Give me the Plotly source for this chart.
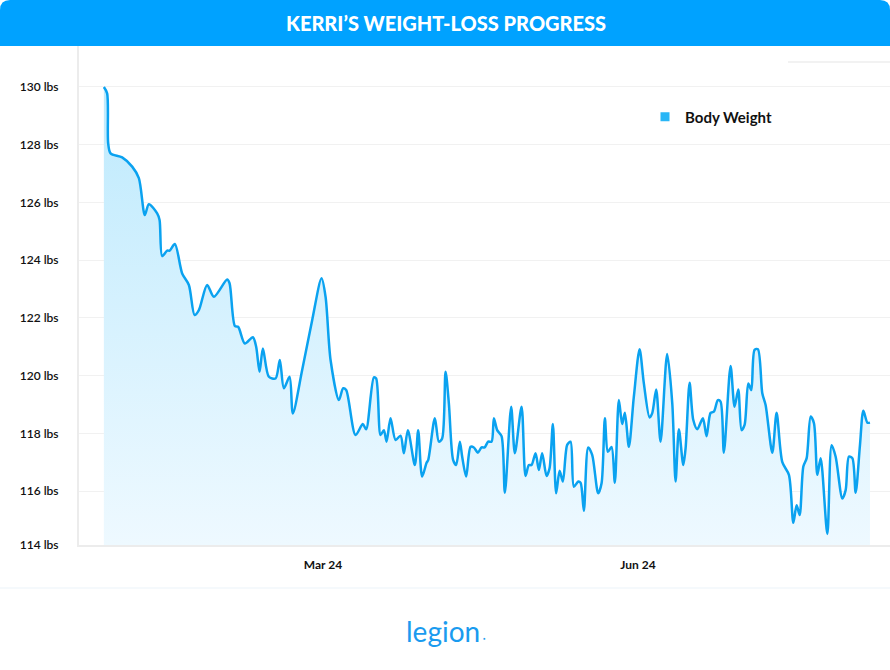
import pandas as pd
import plotly.graph_objects as go

# ---- data ----
start_date = "2023-12-28"
days_since_start = [
    0, 0.96, 1.26, 1.96, 5.34, 8.27, 10.22, 11.97, 13.14, 15.57, 16.27, 17.03, 18.49, 19.19,
    20.74, 22.87, 24.83, 26.49, 27.75, 30.17, 32.13, 36.01, 36.71, 38.26, 39.22, 41.18, 43.52,
    44.48, 45.47, 46.44, 48.19, 50.15, 51.40, 52.57, 54.24, 55.20, 57.92, 60.84, 63.58, 64.75,
    66.21, 68.64, 69.89, 70.77, 73.51, 75.64, 76.61, 78.86, 79.53, 80.81, 81.78, 82.57, 83.73,
    85.19, 86.65, 87.62, 88.79, 90.83, 91.80, 92.96, 94.25, 94.72, 96.67, 97.84, 98.80, 99.80,
    100.76, 102.02, 102.89, 103.97, 104.65, 105.82, 107.10, 108.06, 109.23, 110.31, 111.19,
    112.24, 113.24, 113.91, 114.87, 116.15, 117.12, 118.96, 120.04, 122.0, 123.16, 124.13,
    124.91, 126.08, 127.05, 128.01, 129.30, 130.17, 131.14, 132.10, 133.10, 134.06, 135.32,
    136.31, 137.27, 138.53, 139.23, 140.19, 141.45, 142.62, 144.37, 145.36, 146.33, 147.2,
    148.28, 149.24, 150.41, 151.38, 152.17, 153.34, 154.79, 156.46, 157.71, 159.38, 160.14,
    161.31, 162.59, 164.52, 166.01, 166.98, 167.94, 169.23, 169.9, 171.07, 172.15, 173.32,
    174.95, 176.03, 177.2, 178.16, 179.33, 180.12, 181.08, 183.04, 184.21, 185.29, 186.25,
    187.13, 188.21, 189.09, 190.05, 191.02, 192.3, 193.27, 195.23, 196.48, 198.15, 200.08,
    201.37, 202.33, 203.21, 204.29, 205.26, 206.43, 207.39, 208.38, 209.35, 211.3, 212.56,
    213.73, 215.68, 216.65, 217.61, 218.6, 219.57, 220.83, 221.82, 222.99, 223.75,
]
weights_lbs = [
    130.0, 129.78, 128.05, 127.7, 127.56, 127.24, 126.84, 125.56, 125.94, 125.62, 125.39, 124.14,
    124.33, 124.33, 124.56, 123.54, 123.14, 122.10, 122.27, 123.14, 122.73, 123.33, 123.20,
    121.72, 121.69, 121.11, 121.33, 121.00, 120.13, 120.94, 119.96, 119.90, 120.54, 119.56,
    119.96, 118.69, 120.19, 121.92, 123.37, 122.73, 120.54, 119.15, 119.56, 119.50, 117.94,
    118.32, 118.14, 119.94, 119.90, 117.94, 118.11, 117.71, 118.52, 117.77, 117.92, 117.31,
    118.11, 116.90, 118.11, 116.50, 116.98, 117.07, 118.52, 117.71, 117.82, 120.13, 119.04,
    117.07, 116.90, 117.71, 117.19, 116.50, 117.53, 117.51, 117.33, 117.51, 117.51, 117.71,
    117.71, 118.52, 118.11, 117.90, 115.94, 118.92, 117.31, 118.92, 116.52, 116.90, 116.90,
    117.31, 116.73, 117.31, 116.52, 116.79, 118.32, 115.92, 116.70, 116.33, 117.60, 117.71,
    116.15, 116.33, 116.29, 115.32, 117.51, 117.25, 115.92, 116.27, 118.52, 117.36, 117.53,
    116.29, 119.15, 118.32, 118.71, 117.53, 119.27, 120.91, 119.73, 118.55, 118.69, 119.52,
    117.71, 120.75, 119.04, 116.33, 118.14, 116.90, 117.48, 119.75, 118.46, 118.14, 118.52,
    117.90, 118.71, 118.75, 119.15, 119.10, 117.33, 120.33, 118.92, 119.52, 118.11, 118.29,
    119.73, 119.50, 120.89, 120.91, 119.39, 118.98, 117.33, 118.71, 117.0, 116.56, 114.90,
    115.51, 115.17, 116.85, 117.14, 118.58, 118.35, 116.56, 117.14, 114.51, 117.59, 117.19,
    115.74, 116.03, 117.19, 117.14, 115.94, 117.59, 118.78, 118.37, 118.37,
]
series_name = "Body Weight"
title_text = "KERRI’S WEIGHT-LOSS PROGRESS"
y_tick_values = [114.13, 116, 118, 120, 122, 124, 126, 128, 130]
y_tick_labels = ["114 lbs", "116 lbs", "118 lbs", "120 lbs", "122 lbs", "124 lbs",
                 "126 lbs", "128 lbs", "130 lbs"]
x_tick_values = ["2024-03-01", "2024-06-01"]
x_tick_labels = ["Mar 24", "Jun 24"]

dates = pd.Timestamp(start_date) + pd.to_timedelta(days_since_start, unit="D")

# ---- layout geometry helpers ----
W, H = 890, 670
L, R, T, B = 79, 0, 46, 125
PW, PH = W - L - R, H - T - B


def px(x):
    return (x - L) / PW


def py(y):
    return (H - B - y) / PH


BLUE = "#00a2ff"
LINE = "#0aa2f0"

fig = go.Figure()
fig.add_trace(go.Scatter(
    x=dates, y=weights_lbs, mode="lines", name=series_name, showlegend=False,
    line=dict(color=LINE, width=2.5, shape="spline", smoothing=0.8),
    fill="tozeroy",
    fillgradient=dict(type="vertical", start=114.13, stop=130,
                      colorscale=[[0, "rgb(238,249,255)"], [1, "rgb(190,234,253)"]]),
    hoverinfo="skip",
))
fig.add_trace(go.Scatter(
    x=[None], y=[None], mode="markers", name=series_name,
    marker=dict(symbol="square", size=9, color="#29b6f6"),
))

x0 = pd.Timestamp("2024-03-01") - pd.Timedelta(days=71.26)
x1 = pd.Timestamp("2024-03-01") + pd.Timedelta(days=165.6)

title_bar = (f"M {px(0)},{py(46)} L {px(0)},{py(10)} Q {px(0)},{py(0)} {px(10)},{py(0)} "
             f"L {px(880)},{py(0)} Q {px(890)},{py(0)} {px(890)},{py(10)} L {px(890)},{py(46)} Z")

fig.update_layout(
    width=W, height=H,
    margin=dict(l=L, r=R, t=T, b=B),
    paper_bgcolor="white", plot_bgcolor="white",
    font=dict(family="Lato, 'Open Sans', sans-serif", color="#1c1c1c"),
    showlegend=True,
    legend=dict(x=px(645), y=py(117), xanchor="left", yanchor="middle",
                bgcolor="rgba(0,0,0,0)",
                font=dict(family="Lato", size=15, color="#111111", weight="bold")),
    xaxis=dict(range=[x0, x1], showgrid=False, zeroline=False,
               showline=True, linecolor="#ececec", linewidth=2,
               tickvals=x_tick_values, ticktext=x_tick_labels, ticks="",
               ticklabelstandoff=8,
               tickfont=dict(family="Lato", size=12, color="#111111", weight="bold")),
    yaxis=dict(range=[114.13, 131.42], showgrid=True, gridcolor="#f1f1f1", gridwidth=1,
               zeroline=False, showline=True, linecolor="#ececec", linewidth=2,
               tickvals=y_tick_values, ticktext=y_tick_labels, ticks="",
               ticklabelstandoff=16,
               tickfont=dict(family="Lato", size=12, color="#111111", weight=600)),
    shapes=[
        dict(type="path", xref="paper", yref="paper", path=title_bar,
             fillcolor=BLUE, line=dict(width=0), layer="above"),
        dict(type="line", xref="paper", yref="paper", x0=px(788), x1=px(890),
             y0=py(62), y1=py(62), line=dict(color="#f2f2f2", width=2)),
        dict(type="line", xref="paper", yref="paper", x0=px(0), x1=px(890),
             y0=py(588), y1=py(588), line=dict(color="#f5f9fc", width=2)),
    ],
    annotations=[
        dict(text=title_text, xref="paper", yref="paper", x=px(446), y=py(23),
             showarrow=False, xanchor="center", yanchor="middle",
             font=dict(family="Lato", size=20, color="white", weight=900)),
        dict(text="legion", xref="paper", yref="paper", x=px(443), y=py(631),
             showarrow=False, xanchor="center", yanchor="middle",
             font=dict(family="Lato", size=28, color="#1a9bef")),
        dict(text="●", xref="paper", yref="paper", x=px(484), y=py(638),
             showarrow=False, xanchor="center", yanchor="middle",
             font=dict(family="Lato", size=4, color="#1a9bef")),
    ],
)

fig.write_html("out.html", config={"displayModeBar": False},
               post_script="document.body.style.margin='0';")
